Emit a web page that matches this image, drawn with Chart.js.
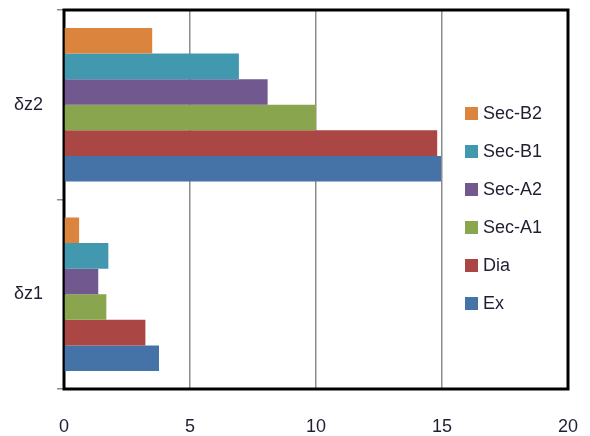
<!DOCTYPE html>
<html>
<head>
<meta charset="utf-8">
<script src="https://cdn.jsdelivr.net/npm/chart.js@4"></script>
<style>
  html, body { margin: 0; padding: 0; background: #fff; }
  #wrap { width: 590px; height: 436px; }
</style>
</head>
<body>
<div id="wrap"><canvas id="myChart"></canvas></div>
<script>
// categories, top to bottom
var categories = ["δz2", "δz1"];
var xTicks = [0, 5, 10, 15, 20];

// series values, in the order [δz2, δz1]
var secB2 = [3.50, 0.60];
var secB1 = [6.94, 1.76];
var secA2 = [8.08, 1.36];
var secA1 = [10.0, 1.68];
var dia = [14.81, 3.23];
var ex = [14.96, 3.77];

var textColor = "#1f1f33";
var font = { family: "'Liberation Sans', Arial, sans-serif", size: 18 };

// outer frame around the plot area (top and right sides included)
const framePlugin = {
  id: "frame",
  beforeDatasetsDraw(chart) {
    const a = chart.chartArea, c = chart.ctx;
    c.save();
    c.strokeStyle = "#000";
    c.lineWidth = 3;
    c.strokeRect(a.left, a.top, a.right - a.left, a.bottom - a.top);
    c.restore();
  }
};

// legend drawn over the right side of the plot
const legendPlugin = {
  id: "innerLegend",
  afterDatasetsDraw(chart) {
    const a = chart.chartArea, c = chart.ctx;
    const x = a.right - 103;
    let y = a.top + 103;
    c.save();
    c.font = font.size + "px " + font.family;
    c.textBaseline = "middle";
    chart.data.datasets.forEach(function (ds) {
      c.fillStyle = ds.backgroundColor;
      c.fillRect(x, y - 6, 13, 13);
      c.fillStyle = textColor;
      c.fillText(ds.label, x + 18, y + 1);
      y += 38;
    });
    c.restore();
  }
};

const ctx = document.getElementById("myChart");
new Chart(ctx, {
  type: "bar",
  data: {
    labels: categories,
    datasets: [
      { label: "Sec-B2", data: secB2, backgroundColor: "#DB843D" },
      { label: "Sec-B1", data: secB1, backgroundColor: "#4198AF" },
      { label: "Sec-A2", data: secA2, backgroundColor: "#71588F" },
      { label: "Sec-A1", data: secA1, backgroundColor: "#89A54E" },
      { label: "Dia", data: dia, backgroundColor: "#AA4643" },
      { label: "Ex", data: ex, backgroundColor: "#4572A7" },
    ],
  },
  options: {
    indexAxis: "y",
    responsive: true,
    maintainAspectRatio: false,
    animation: false,
    categoryPercentage: 0.81,
    barPercentage: 1.0,
    layout: { padding: { top: 10, right: 22, left: 0, bottom: 0 } },
    plugins: {
      legend: { display: false },
      tooltip: { enabled: false },
    },
    scales: {
      x: {
        min: 0,
        max: 20,
        afterBuildTicks: function (scale) {
          scale.ticks = xTicks.map(function (v) { return { value: v }; });
        },
        afterFit: function (scale) {
          scale.height = 47;
          scale.paddingLeft = 0;
          scale.paddingRight = 0;
        },
        grid: { color: "#8c8c8c", lineWidth: 1.5, drawTicks: false },
        border: { display: false },
        ticks: { color: textColor, font: font, padding: 27, maxRotation: 0 },
      },
      y: {
        afterFit: function (scale) {
          scale.width = 64;
          scale.paddingTop = 0;
          scale.paddingBottom = 0;
        },
        grid: {
          offset: true,
          drawOnChartArea: false,
          drawTicks: true,
          tickLength: 7,
          color: "#8c8c8c",
          lineWidth: 1.5,
        },
        border: { display: false },
        ticks: { color: textColor, font: font, padding: 14 },
      },
    },
  },
  plugins: [framePlugin, legendPlugin],
});
</script>
</body>
</html>
